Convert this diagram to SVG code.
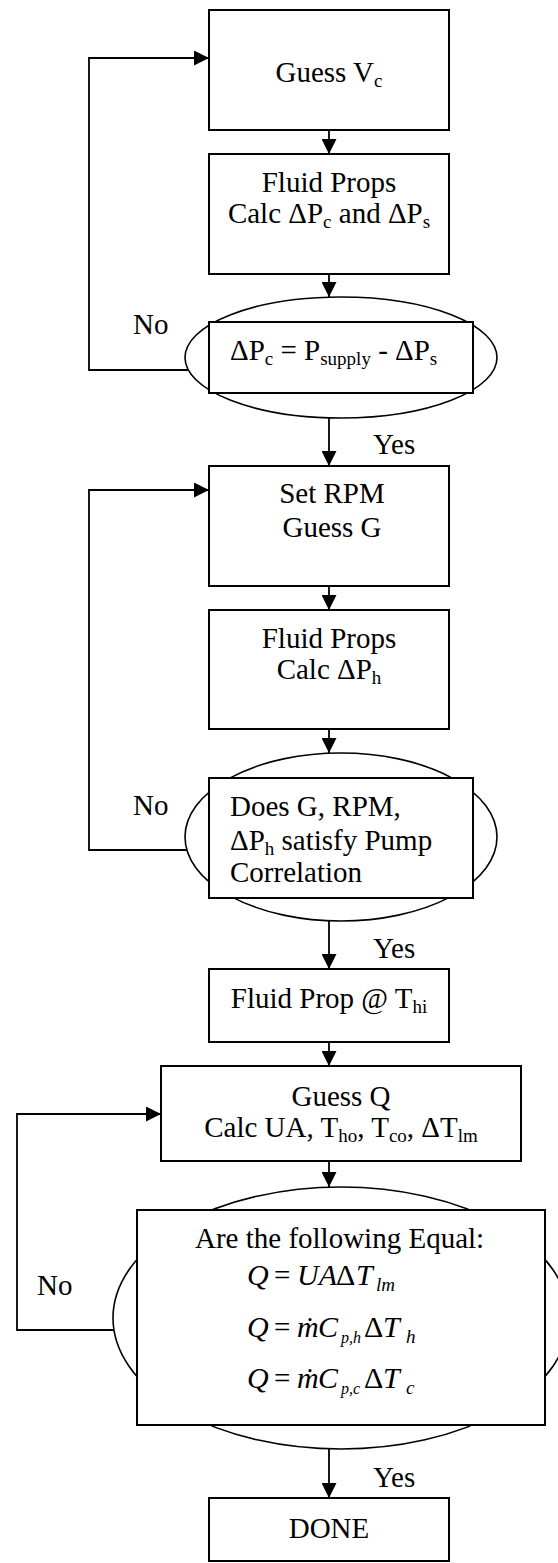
<svg xmlns="http://www.w3.org/2000/svg" width="558" height="1563" viewBox="0 0 558 1563">
<style>
.box{fill:#fff;stroke:#000;stroke-width:2}
.ell{fill:#fff;stroke:#000;stroke-width:1.6}
.t{font-family:"Liberation Serif","Times New Roman",serif;font-size:29px;fill:#000}
.c{text-anchor:middle}
.i{font-style:italic}
.s{font-size:19px}
.ps{font-size:16px}
.e{font-size:30px}
.conn{fill:none;stroke:#000;stroke-width:1.8}
</style>
<defs>
<marker id="ah" markerUnits="userSpaceOnUse" markerWidth="15" markerHeight="15" refX="15" refY="7.5" orient="auto">
<path d="M0,0 L15,7.5 L0,15 z" fill="#000"/>
</marker>
</defs>
<rect width="558" height="1563" fill="#fff"/>

<g id="n1">
<rect class="box" x="209" y="10" width="240" height="120"/>
<text class="t c" x="329" y="82">Guess V<tspan class="s" dy="5">c</tspan></text>
</g>

<g id="n2">
<rect class="box" x="209" y="154" width="240" height="120"/>
<text class="t c" x="329" y="192">Fluid Props</text>
<text class="t c" x="329" y="223">Calc ΔP<tspan class="s" dy="5">c</tspan><tspan dy="-5"> and ΔP</tspan><tspan class="s" dy="5">s</tspan></text>
</g>

<g id="d1">
<ellipse class="ell" cx="341" cy="357.5" rx="156" ry="60.5"/>
<rect class="box" x="209" y="322" width="264" height="71"/>
<text class="t" x="230" y="360">ΔP<tspan class="s" dy="5">c</tspan><tspan dy="-5"> = P</tspan><tspan class="s" dy="5">supply</tspan><tspan dy="-5"> - ΔP</tspan><tspan class="s" dy="5">s</tspan></text>
</g>

<g id="n3">
<rect class="box" x="209" y="466" width="240" height="120"/>
<text class="t c" x="332" y="503">Set RPM</text>
<text class="t c" x="332" y="537">Guess G</text>
</g>

<g id="n4">
<rect class="box" x="209" y="610" width="240" height="119"/>
<text class="t c" x="329" y="648">Fluid Props</text>
<text class="t c" x="329" y="679">Calc ΔP<tspan class="s" dy="5">h</tspan></text>
</g>

<g id="d2">
<ellipse class="ell" cx="341" cy="837" rx="156" ry="84"/>
<rect class="box" x="209" y="778" width="264" height="120"/>
<text class="t" x="230" y="816">Does G, RPM,</text>
<text class="t" x="230" y="850">ΔP<tspan class="s" dy="5">h</tspan><tspan dy="-5"> satisfy Pump</tspan></text>
<text class="t" x="230" y="882">Correlation</text>
</g>

<g id="n5">
<rect class="box" x="209" y="969" width="240" height="73"/>
<text class="t c" x="329" y="1008">Fluid Prop @ T<tspan class="s" dy="5">hi</tspan></text>
</g>

<g id="n6">
<rect class="box" x="161" y="1066" width="360" height="95"/>
<text class="t c" x="341" y="1106">Guess Q</text>
<text class="t c" x="341" y="1137">Calc UA, T<tspan class="s" dy="5">ho</tspan><tspan dy="-5">, T</tspan><tspan class="s" dy="5">co</tspan><tspan dy="-5">, ΔT</tspan><tspan class="s" dy="5">lm</tspan></text>
</g>

<g id="d3">
<ellipse class="ell" cx="341" cy="1318" rx="228" ry="131"/>
<rect class="box" x="137" y="1210" width="408" height="215"/>
<text class="t" x="195" y="1248">Are the following Equal:</text>
<text class="t e i" x="247" y="1285">Q</text>
<text class="t" x="274" y="1285">=</text>
<text class="t e i" x="297" y="1285">UA</text>
<text class="t e" x="336" y="1285">Δ</text>
<text class="t e i" x="356" y="1285">T</text>
<text class="t i s" x="376" y="1291">lm</text>
<text class="t e i" x="247" y="1337">Q</text>
<text class="t" x="274" y="1337">=</text>
<text class="t e i" x="297" y="1337">ṁ</text>
<text class="t e i" x="318" y="1337">C</text>
<text class="t i ps" x="341" y="1343">p,h</text>
<text class="t e" x="364" y="1337">Δ</text>
<text class="t e i" x="383" y="1337">T</text>
<text class="t i s" x="406" y="1343">h</text>
<text class="t e i" x="247" y="1388">Q</text>
<text class="t" x="274" y="1388">=</text>
<text class="t e i" x="297" y="1388">ṁ</text>
<text class="t e i" x="318" y="1388">C</text>
<text class="t i ps" x="341" y="1394">p,c</text>
<text class="t e" x="364" y="1388">Δ</text>
<text class="t e i" x="383" y="1388">T</text>
<text class="t i s" x="406" y="1394">c</text>
</g>

<g id="n7">
<rect class="box" x="209" y="1498" width="240" height="63"/>
<text class="t c" x="329" y="1538">DONE</text>
</g>

<g id="labels">
<text class="t" x="133" y="334">No</text>
<text class="t" x="133" y="815">No</text>
<text class="t" x="37" y="1295">No</text>
<text class="t" x="373" y="454">Yes</text>
<text class="t" x="373" y="958">Yes</text>
<text class="t" x="373" y="1487">Yes</text>
</g>

<g id="connectors">
<path class="conn" d="M329,130 L329,154" marker-end="url(#ah)"/>
<path class="conn" d="M329,274 L329,297" marker-end="url(#ah)"/>
<path class="conn" d="M188,370 L89,370 L89,58 L209,58" marker-end="url(#ah)"/>
<path class="conn" d="M329,418 L329,466" marker-end="url(#ah)"/>
<path class="conn" d="M329,586 L329,610" marker-end="url(#ah)"/>
<path class="conn" d="M329,729 L329,753" marker-end="url(#ah)"/>
<path class="conn" d="M187,850 L89,850 L89,490 L209,490" marker-end="url(#ah)"/>
<path class="conn" d="M329,921 L329,969" marker-end="url(#ah)"/>
<path class="conn" d="M329,1042 L329,1066" marker-end="url(#ah)"/>
<path class="conn" d="M329,1161 L329,1187" marker-end="url(#ah)"/>
<path class="conn" d="M114,1330 L17,1330 L17,1114 L161,1114" marker-end="url(#ah)"/>
<path class="conn" d="M329,1449 L329,1498" marker-end="url(#ah)"/>
</g>
</svg>
